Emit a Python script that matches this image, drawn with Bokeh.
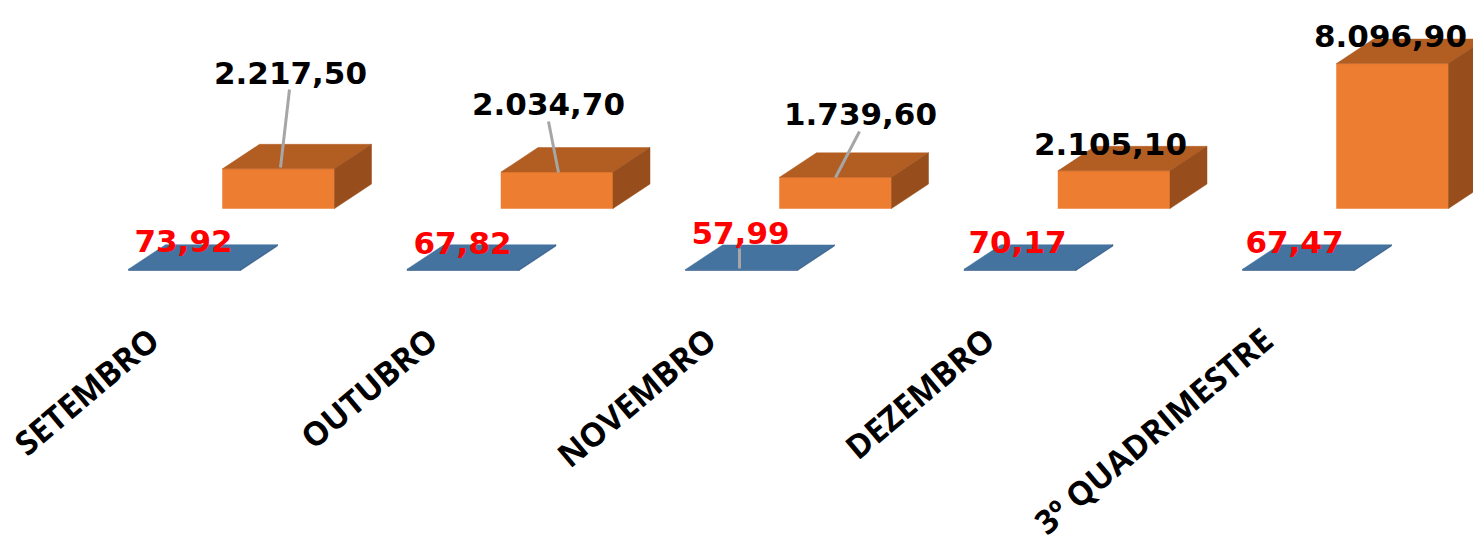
from bokeh.plotting import figure
from bokeh.models import Range1d, ColumnDataSource
from bokeh.embed import file_html
from bokeh.resources import INLINE
from bokeh.core.properties import value

# ---------------- data ----------------
categories = ["SETEMBRO", "OUTUBRO", "NOVEMBRO", "DEZEMBRO", "3º QUADRIMESTRE"]
front_series = [73.92, 67.82, 57.99, 70.17, 67.47]          # blue row (front)
back_series = [2217.50, 2034.70, 1739.60, 2105.10, 8096.90]  # orange row (back)


def fmt_br(v):
    s = f"{v:,.2f}"
    return s.replace(",", "X").replace(".", ",").replace("X", ".")


# ---------------- layout (pixels) ----------------
W, H = 1473, 538
ORIGIN = 0                 # figure sits at the page's top-left corner
PX_PER_CAT = 278.5         # category pitch
PX_PER_UNIT = 0.0179       # pixels per value unit
CAT0_X = 231               # page x of category 0 centre
BASE_Y = 208               # page y of value 0 (back row floor)
BAR_W_PX = 112
DEPTH_PX = (37, 24.5)      # 3-D depth offset (right, up)

rows = {
    "back": dict(left_px=-9, floor_px=0, front="#ED7D31", top="#B25D22", side="#974E1C"),
    "front": dict(left_px=-103, floor_px=-62, front="#2F5A88", top="#44739F", side="#355F8C"),
}

# label placement (pixel offsets relative to category centre / page y of baseline)
back_lbl_dx = [59, 38.5, 72, 43.5, 45]
back_lbl_base = [72, 103, 113, 143, 35]
front_lbl_dx = [-48, -47.5, -48, -49.5, -51]
front_lbl_base = [240, 242, 232, 241, 241]
# leader lines: (x_top_dx, y_top, x_bot_dx, y_bot) in pixels, category-relative
back_leaders = {0: (58, 89, 49, 167), 1: (38.5, 121, 48.5, 172), 2: (71, 131, 47, 177)}
front_leaders = {2: (-49, 248, -49, 268)}


def dxp(px):
    return px / PX_PER_CAT


def vy(page_y):
    return (BASE_Y - page_y) / PX_PER_UNIT


x_range = Range1d(dxp(ORIGIN - CAT0_X), dxp(ORIGIN + W - CAT0_X))
y_range = Range1d(vy(ORIGIN + H), vy(ORIGIN))

p = figure(width=W, height=H, x_range=x_range, y_range=y_range,
           output_backend="svg", toolbar_location=None, min_border=0,
           x_axis_type=None, y_axis_type=None)
p.grid.visible = False
p.outline_line_color = None
p.background_fill_color = "white"
p.border_fill_color = "white"


def boxes(values, row):
    r = rows[row]
    w = dxp(BAR_W_PX)
    ddx = dxp(DEPTH_PX[0])
    ddy = DEPTH_PX[1] / PX_PER_UNIT
    floor = r["floor_px"] / PX_PER_UNIT
    xs, ys, cs = [], [], []
    for i, v in enumerate(values):
        xl = i + dxp(r["left_px"])
        yb = floor
        yt = floor + v
        # front
        xs.append([xl, xl + w, xl + w, xl]); ys.append([yb, yb, yt, yt]); cs.append(r["front"])
        # top
        xs.append([xl, xl + w, xl + w + ddx, xl + ddx]); ys.append([yt, yt, yt + ddy, yt + ddy]); cs.append(r["top"])
        # side
        xs.append([xl + w, xl + w + ddx, xl + w + ddx, xl + w]); ys.append([yb, yb + ddy, yt + ddy, yt]); cs.append(r["side"])
    p.patches(xs=xs, ys=ys, fill_color=cs, line_color=cs, line_width=0.5)


boxes(back_series, "back")
boxes(front_series, "front")

# leader lines
lx, ly = [], []
for i, (xt, yt, xb, yb) in back_leaders.items():
    lx.append([i + dxp(xt), i + dxp(xb)]); ly.append([vy(yt), vy(yb)])
for i, (xt, yt, xb, yb) in front_leaders.items():
    lx.append([i + dxp(xt), i + dxp(xb)]); ly.append([vy(yt), vy(yb)])
p.multi_line(xs=lx, ys=ly, line_color="#A6A6A6", line_width=3)

# value labels
src_back = ColumnDataSource(dict(
    x=[i + dxp(d) for i, d in enumerate(back_lbl_dx)],
    y=[vy(b) for b in back_lbl_base],
    t=[fmt_br(v) for v in back_series]))
p.text(x="x", y="y", text="t", source=src_back, text_align="center",
       text_baseline="alphabetic", text_font=value("DejaVu Sans"),
       text_font_style="bold", text_font_size="31px", text_color="#000000")

src_front = ColumnDataSource(dict(
    x=[i + dxp(d) for i, d in enumerate(front_lbl_dx)],
    y=[vy(b) for b in front_lbl_base],
    t=[fmt_br(v) for v in front_series]))
p.text(x="x", y="y", text="t", source=src_front, text_align="center",
       text_baseline="alphabetic", text_font=value("DejaVu Sans"),
       text_font_style="bold", text_font_size="31px", text_color="#FF0000")

# category labels (rotated)
src_cat = ColumnDataSource(dict(
    x=[i + dxp(-78) for i in range(len(categories))],
    y=[vy(334)] * len(categories),
    t=categories))
p.text(x="x", y="y", text="t", source=src_cat, angle=0.70,
       text_align="right", text_baseline="middle",
       text_font=value("Open Sans"), text_font_style="bold",
       text_font_size="33px", text_color="#000000")

open("out.html", "w").write(file_html(p, INLINE))
